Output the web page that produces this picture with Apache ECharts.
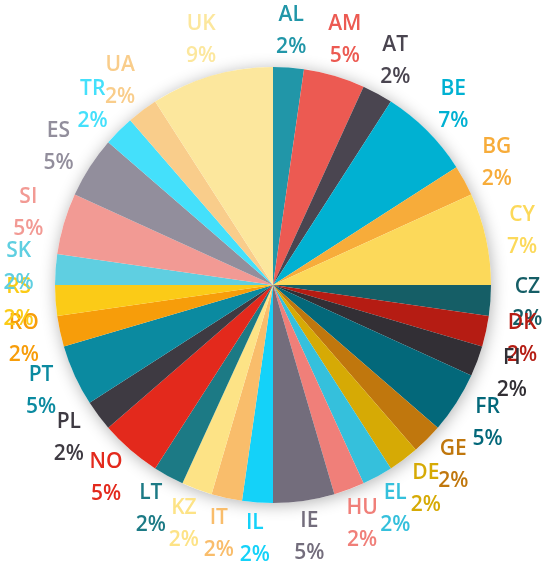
<!DOCTYPE html>
<html>
<head>
<meta charset="utf-8">
<script src="https://cdn.jsdelivr.net/npm/echarts@6/dist/echarts.min.js"></script>
<style>
  html, body { margin: 0; padding: 0; background: #fff; }
  #chart { width: 543px; height: 561px; }
</style>
</head>
<body>
<div id="chart"></div>
<script>
const countries = ["AL", "AM", "AT", "BE", "BG", "CY", "CZ", "DK", "FI", "FR",
  "GE", "DE", "EL", "HU", "IE", "IL", "IT", "KZ", "LT", "NO",
  "PL", "PT", "RO", "RS", "SK", "SI", "ES", "TR", "UA", "UK"];
const counts = [1, 2, 1, 3, 1, 3, 1, 1, 1, 2,
  1, 1, 1, 1, 2, 1, 1, 1, 1, 2,
  1, 2, 1, 1, 1, 2, 2, 1, 1, 4];
const colors = ["#2196a8", "#ec5a52", "#4a4550", "#00b1d2", "#f7ac3a", "#fcd95a", "#155e66", "#b51c13", "#322f35", "#03687a",
  "#c0770d", "#d6aa05", "#35c0dc", "#f07f79", "#736d7c", "#14d2f9", "#f9bd6b", "#fde386", "#1c7a85", "#e3291c",
  "#3e3a42", "#0b8aa0", "#f79d0a", "#fbcb17", "#5fcfe1", "#f29a94", "#928e9c", "#44e0fb", "#f9cd8b", "#fce79d"];

const total = counts.reduce((a, b) => a + b, 0);

const pieData = countries.map((c, i) => ({
  name: c,
  value: counts[i],
  itemStyle: { color: colors[i] }
}));

const labelData = countries.map((c, i) => ({
  name: c,
  value: counts[i],
  label: { color: colors[i] }
}));

const chart = echarts.init(document.getElementById("chart"));
chart.setOption({
  animation: false,
  series: [
    {
      // soft shadow behind the whole pie
      type: "pie",
      z: 1,
      center: [273, 285],
      radius: [0, 218],
      silent: true,
      label: { show: false },
      labelLine: { show: false },
      itemStyle: {
        color: "#fff",
        shadowBlur: 16,
        shadowColor: "rgba(0,0,0,0.3)",
        shadowOffsetX: 1,
        shadowOffsetY: 2
      },
      data: [{ name: "all", value: total }]
    },
    {
      type: "pie",
      z: 2,
      center: [273, 285],
      radius: [0, 218],
      startAngle: 90,
      clockwise: true,
      silent: true,
      label: { show: false },
      labelLine: { show: false },
      data: pieData
    },
    {
      type: "pie",
      z: 3,
      center: [273, 285],
      radius: [230, 274],
      startAngle: 90,
      clockwise: true,
      silent: true,
      avoidLabelOverlap: false,
      labelLayout: { hideOverlap: false },
      itemStyle: { color: "rgba(0,0,0,0)" },
      labelLine: { show: false },
      label: {
        show: true,
        position: "inside",
        rotate: 0,
        overflow: "none",
        fontFamily: "Open Sans",
        fontWeight: 600,
        fontSize: 21,
        lineHeight: 32,
        align: "center",
        formatter: p => p.name + "\n" + Math.round(p.value / total * 100) + "%"
      },
      data: labelData
    }
  ]
});
</script>
</body>
</html>
